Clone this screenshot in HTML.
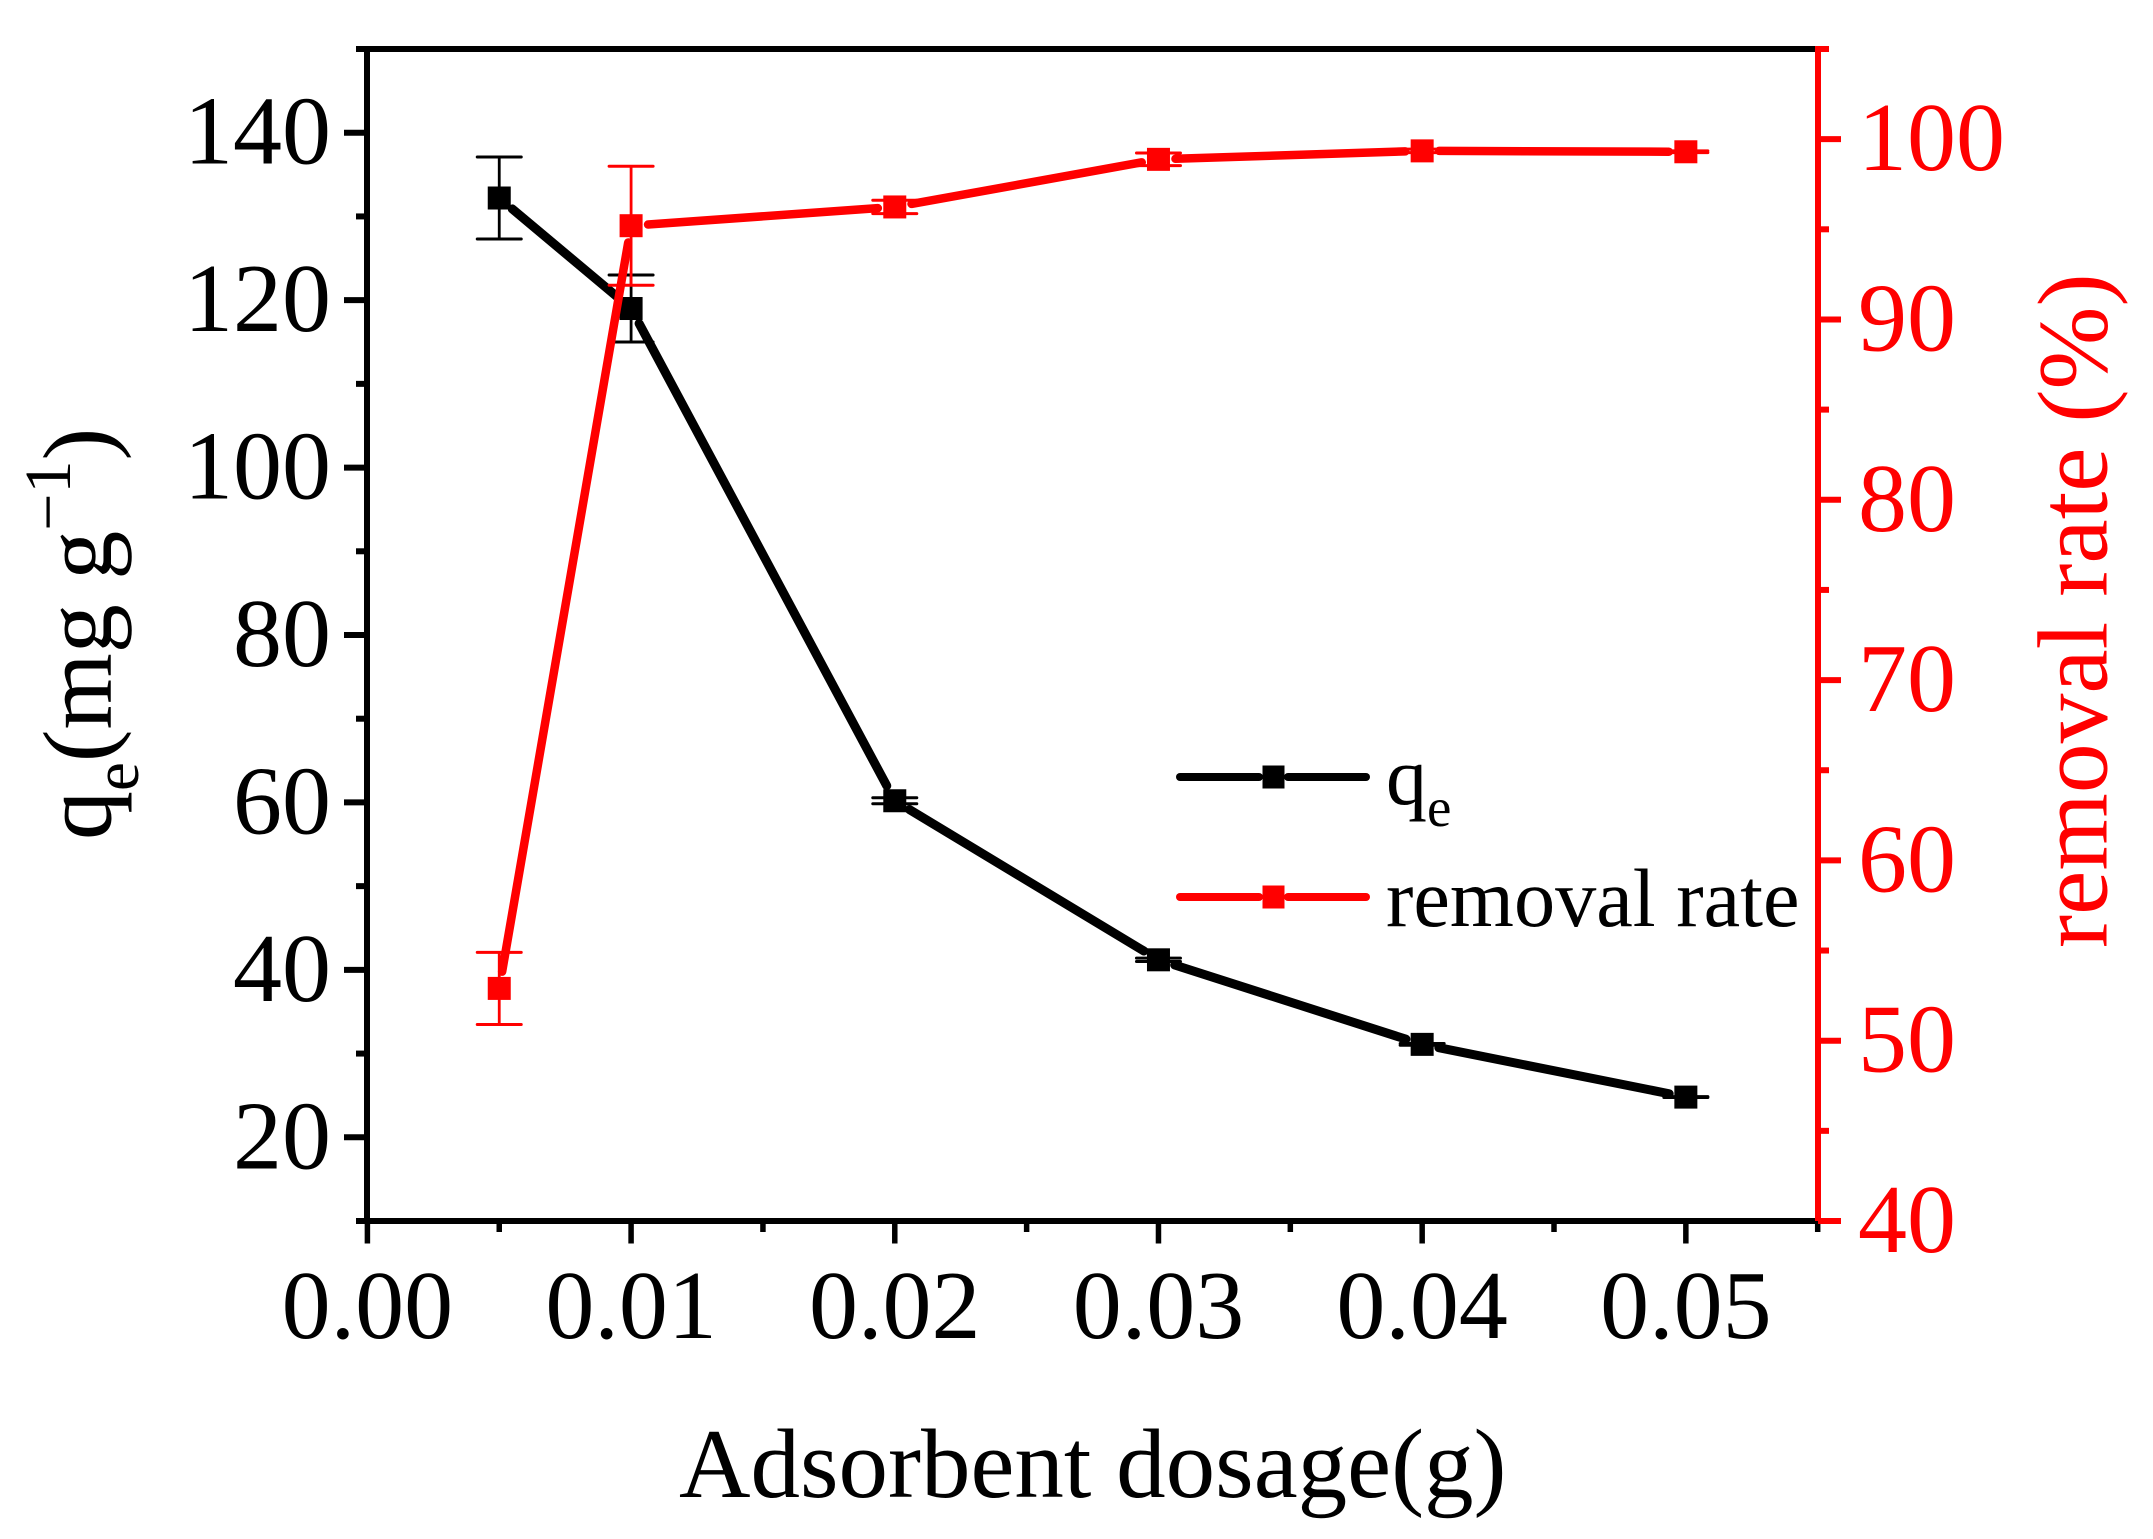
<!DOCTYPE html>
<html lang="en">
<head>
<meta charset="utf-8">
<title>Adsorbent dosage chart</title>
<style>
html,body{margin:0;padding:0;background:#fff;width:2153px;height:1539px;overflow:hidden}
svg{display:block;font-family:"Liberation Serif",serif}
</style>
</head>
<body>
<svg id="chart" xmlns="http://www.w3.org/2000/svg" width="2153" height="1539" viewBox="0 0 2153 1539">
  <rect x="0" y="0" width="2153" height="1539" fill="#fff"/>
  <g id="axes"></g>
  <g id="series"></g>
  <text x="679" y="1497" font-size="99" fill="#000">Adsorbent dosage(g)</text>
  <text transform="translate(110.7,840) rotate(-90)" font-size="98" fill="#000">q<tspan font-size="65" dy="27.5">e</tspan><tspan dy="-27.5">(mg g</tspan><tspan font-size="66" dy="-40.7">−1</tspan><tspan dy="40.7">)</tspan></text>
  <text transform="translate(2106.7,948) rotate(-90)" font-size="99.6" fill="#f00">removal rate (%)</text>
  <g>
    <g>
      <line x1="1180" y1="777" x2="1259" y2="777" stroke="#000" stroke-width="8" stroke-linecap="round"/>
      <line x1="1288" y1="777" x2="1366" y2="777" stroke="#000" stroke-width="8" stroke-linecap="round"/>
      <rect x="1262.5" y="765.5" width="22" height="23" fill="#000"/>
      <text x="1386" y="804" font-size="82" fill="#000">q<tspan font-size="55" dy="22">e</tspan></text>
    </g>
    <g>
      <line x1="1180" y1="897" x2="1259" y2="897" stroke="#f00" stroke-width="8" stroke-linecap="round"/>
      <line x1="1288" y1="897" x2="1366" y2="897" stroke="#f00" stroke-width="8" stroke-linecap="round"/>
      <rect x="1262.5" y="885.5" width="22" height="23" fill="#f00"/>
      <text x="1386" y="926" font-size="82.3" fill="#000">removal rate</text>
    </g>
  </g>
</svg>
<script>
var dosages = [0.005, 0.01, 0.02, 0.03, 0.04, 0.05];
var qeValues = [132.2, 119, 60.2, 41.2, 31.1, 24.8];
var qeErrors = [4.9, 4, 0.36, 0.2, 0.1, 0.05];
var removalValues = [52.9, 95.2, 96.24, 98.88, 99.35, 99.3];
var removalErrors = [2, 3.3, 0.37, 0.35, 0.1, 0.05];
var xMajorTicks = [0, 0.01, 0.02, 0.03, 0.04, 0.05];
var xMinorTicks = [0.005, 0.015, 0.025, 0.035, 0.045, 0.055];
var xTickLabels = ['0.00', '0.01', '0.02', '0.03', '0.04', '0.05'];
var leftMajorTicks = [20, 40, 60, 80, 100, 120, 140];
var leftMinorTicks = [10, 30, 50, 70, 90, 110, 130, 150];
var leftTickLabels = ['20', '40', '60', '80', '100', '120', '140'];
var rightMajorTicks = [40, 50, 60, 70, 80, 90, 100];
var rightMinorTicks = [45, 55, 65, 75, 85, 95, 105];
var rightTickLabels = ['40', '50', '60', '70', '80', '90', '100'];

var NS = 'http://www.w3.org/2000/svg';
var axesGroup = document.getElementById('axes');
var seriesGroup = document.getElementById('series');

function xScale(v) { return 367.4 + (v / 0.055) * 1450.3; }
function yLeft(v) { return 1221 - ((v - 10) / 140) * 1172; }
function yRight(v) { return 1221 - ((v - 40) / 65) * 1172; }

function makeLine(parent, x1, y1, x2, y2, color, width, cap) {
  var el = document.createElementNS(NS, 'line');
  el.setAttribute('x1', x1);
  el.setAttribute('y1', y1);
  el.setAttribute('x2', x2);
  el.setAttribute('y2', y2);
  el.setAttribute('stroke', color);
  el.setAttribute('stroke-width', width);
  if (cap) el.setAttribute('stroke-linecap', cap);
  parent.appendChild(el);
  return el;
}
function makeText(parent, x, y, str, color, anchor) {
  var el = document.createElementNS(NS, 'text');
  el.setAttribute('x', x);
  el.setAttribute('y', y);
  el.setAttribute('font-size', '98');
  el.setAttribute('fill', color);
  el.setAttribute('text-anchor', anchor);
  el.textContent = str;
  parent.appendChild(el);
  return el;
}

var axis;
axis = makeLine(axesGroup, 356, 49, 1818, 49, '#000', 6);


axis = makeLine(axesGroup, 356, 1221, 1818, 1221, '#000', 6);


axis = makeLine(axesGroup, 367, 46, 367, 1224, '#000', 6);


axis = makeLine(axesGroup, 1818, 46, 1818, 1224, '#f00', 6);



xMajorTicks.forEach(function (v, i) {
  var t = makeLine(axesGroup, xScale(v), 1221, xScale(v), 1243.5, '#000', 5.5);
  
  
  var l = makeText(axesGroup, xScale(v), 1338, xTickLabels[i], '#000', 'middle');
  
  
});
xMinorTicks.forEach(function (v) {
  var t = makeLine(axesGroup, xScale(v), 1221, xScale(v), 1232, '#000', 5.5);
  
  
});
leftMajorTicks.forEach(function (v, i) {
  var t = makeLine(axesGroup, 344, yLeft(v), 367, yLeft(v), '#000', 6);
  
  
  var l = makeText(axesGroup, 331, yLeft(v) + 31, leftTickLabels[i], '#000', 'end');
  
  
});
leftMinorTicks.forEach(function (v) {
  var t = makeLine(axesGroup, 356, yLeft(v), 367, yLeft(v), '#000', 6);
  
  
});
rightMajorTicks.forEach(function (v, i) {
  var t = makeLine(axesGroup, 1818, yRight(v), 1841, yRight(v), '#f00', 6);
  
  
  var l = makeText(axesGroup, 1858, yRight(v) + 31, rightTickLabels[i], '#f00', 'start');
  
  
});
rightMinorTicks.forEach(function (v) {
  var t = makeLine(axesGroup, 1818, yRight(v), 1829, yRight(v), '#f00', 6);
  
  
});

function drawSeries(key, values, errors, yFn, color, stemWidth, lineWidth) {
  var GAP = 17;
  var HALF_CAP = 22;
  var MARK = 23;
  var i;
  for (i = 0; i < values.length - 1; i++) {
    var x1 = xScale(dosages[i]), y1 = yFn(values[i]);
    var x2 = xScale(dosages[i + 1]), y2 = yFn(values[i + 1]);
    var dx = x2 - x1, dy = y2 - y1, len = Math.sqrt(dx * dx + dy * dy);
    var ux = dx / len, uy = dy / len;
    var seg = makeLine(seriesGroup, x1 + ux * GAP, y1 + uy * GAP, x2 - ux * GAP, y2 - uy * GAP, color, lineWidth, 'round');
    
    
  }
  for (i = 0; i < values.length; i++) {
    var x = xScale(dosages[i]);
    var yHi = yFn(values[i] + errors[i]);
    var yLo = yFn(values[i] - errors[i]);
    var stem = makeLine(seriesGroup, x, yHi, x, yLo, color, stemWidth);
    
    
    var capTop = makeLine(seriesGroup, x - HALF_CAP, yHi, x + HALF_CAP, yHi, color, 3, 'round');
    
    
    var capBottom = makeLine(seriesGroup, x - HALF_CAP, yLo, x + HALF_CAP, yLo, color, 3, 'round');
    
    
    var marker = document.createElementNS(NS, 'rect');
    marker.setAttribute('x', x - MARK / 2);
    marker.setAttribute('y', yFn(values[i]) - MARK / 2);
    marker.setAttribute('width', MARK);
    marker.setAttribute('height', MARK);
    marker.setAttribute('fill', color);
    
    
    seriesGroup.appendChild(marker);
  }
}
drawSeries('qe', qeValues, qeErrors, yLeft, '#000', 2.8, 9);
drawSeries('removal-rate', removalValues, removalErrors, yRight, '#f00', 2.8, 8.5);
</script>
</body>
</html>
